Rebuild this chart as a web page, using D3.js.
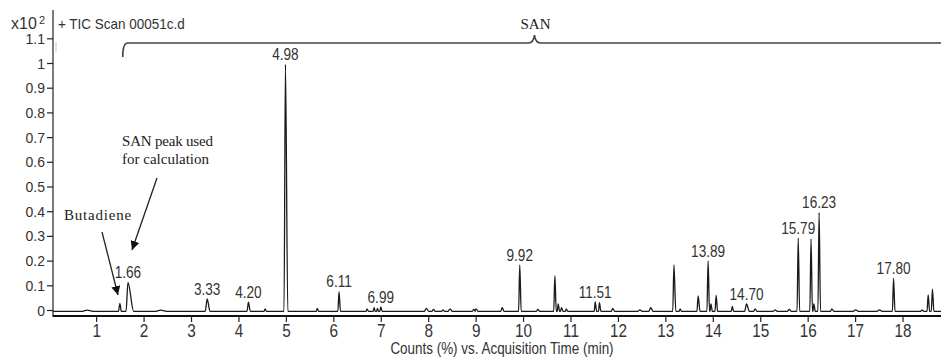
<!DOCTYPE html>
<html>
<head>
<meta charset="utf-8">
<script src="https://cdn.jsdelivr.net/npm/d3@7"></script>
<style>
  body { margin: 0; background: #fff; }
  svg { display: block; }
</style>
</head>
<body>
<div id="main"></div>
<script>
// retention time (min) and height (x10^2 counts) of every peak on the trace
var peakTimes = [0.80, 1.49, 1.66, 2.35, 3.33, 4.20, 4.55, 4.98, 5.65, 6.11, 6.70, 6.85, 6.92, 6.99,
  7.95, 8.10, 8.30, 8.45, 8.95, 9.00, 9.55, 9.92, 10.30, 10.66, 10.73, 10.80, 10.90, 11.51, 11.60,
  11.88, 12.45, 12.68, 13.17, 13.30, 13.68, 13.89, 13.95, 14.06, 14.40, 14.70, 14.88, 15.30, 15.60,
  15.79, 16.06, 16.12, 16.23, 16.50, 17.00, 17.50, 17.80, 18.40, 18.53, 18.62];
var peakHeights = [0.005, 0.032, 0.117, 0.005, 0.050, 0.037, 0.010, 1.000, 0.012, 0.080, 0.010, 0.015, 0.012, 0.018,
  0.012, 0.008, 0.006, 0.010, 0.008, 0.010, 0.015, 0.187, 0.008, 0.143, 0.030, 0.015, 0.010, 0.038, 0.035,
  0.012, 0.006, 0.015, 0.188, 0.010, 0.062, 0.204, 0.030, 0.064, 0.020, 0.030, 0.010, 0.006, 0.008,
  0.296, 0.292, 0.030, 0.400, 0.010, 0.006, 0.006, 0.133, 0.006, 0.066, 0.090];
// peak half widths in minutes (leading, tailing)
var peakLead = [0.10, 0.03, 0.04, 0.10, 0.04, 0.03, 0.02, 0.03, 0.02, 0.025, 0.02, 0.02, 0.02, 0.02,
  0.04, 0.03, 0.03, 0.04, 0.03, 0.03, 0.03, 0.025, 0.03, 0.025, 0.02, 0.02, 0.02, 0.02, 0.02,
  0.03, 0.04, 0.04, 0.025, 0.02, 0.025, 0.025, 0.02, 0.025, 0.02, 0.04, 0.03, 0.04, 0.04,
  0.025, 0.025, 0.02, 0.025, 0.03, 0.05, 0.05, 0.025, 0.03, 0.025, 0.025];
var peakTail = [0.12, 0.03, 0.12, 0.12, 0.06, 0.04, 0.03, 0.05, 0.03, 0.03, 0.03, 0.02, 0.02, 0.03,
  0.05, 0.04, 0.04, 0.05, 0.04, 0.04, 0.04, 0.03, 0.04, 0.03, 0.03, 0.03, 0.03, 0.03, 0.03,
  0.04, 0.05, 0.05, 0.04, 0.03, 0.04, 0.03, 0.03, 0.03, 0.03, 0.06, 0.04, 0.05, 0.05,
  0.03, 0.03, 0.03, 0.03, 0.04, 0.06, 0.06, 0.03, 0.04, 0.03, 0.03];

var labelTimes = ['1.66', '3.33', '4.20', '4.98', '6.11', '6.99', '9.92', '11.51', '13.89', '14.70', '15.79', '16.23', '17.80'];

var xTicks = [1, 2, 3, 4, 5, 6, 7, 8, 9, 10, 11, 12, 13, 14, 15, 16, 17, 18];
var yTicks = [0, 0.1, 0.2, 0.3, 0.4, 0.5, 0.6, 0.7, 0.8, 0.9, 1, 1.1];

var xDomain = [0.08, 18.8];
var yDomain = [0, 1.1];

function draw_chromatogram() {

  var width = 941;
  var height = 358;
  var sans = 'Arial, "Liberation Sans", sans-serif';
  var serif = '"Times New Roman", "Liberation Serif", serif';
  var ink = '#333';

  var svg = d3.select('#main').append('svg').attr('width', width).attr('height', height);

  var x = d3.scaleLinear().domain(xDomain).range([53, 941]);
  var y = d3.scaleLinear().domain(yDomain).range([310.5, 63.5 - 247 * 0.1]);

  // narrow text: the original font is condensed
  function narrowText(g, px, py, str, size, sx, anchor) {
    return g.append('text')
      .attr('transform', 'translate(' + px + ',' + py + ') scale(' + sx + ',1)')
      .attr('text-anchor', anchor)
      .attr('font-family', sans)
      .attr('font-size', size)
      .attr('fill', ink)
      .text(str);
  }

  // y axis
  svg.append('line')
    .attr('x1', 53).attr('x2', 53)
    .attr('y1', 10).attr('y2', 317)
    .attr('stroke', '#222').attr('stroke-width', 1.2);

  svg.selectAll('.ytick')
    .data(yTicks)
    .enter()
    .append('line')
    .attr('class', 'ytick')
    .attr('x1', 47).attr('x2', 53)
    .attr('y1', function (d) { return y(d) })
    .attr('y2', function (d) { return y(d) })
    .attr('stroke', '#222').attr('stroke-width', 1.2);

  svg.selectAll('.ylabel')
    .data(yTicks)
    .enter()
    .append('text')
    .attr('class', 'ylabel')
    .attr('x', 45)
    .attr('y', function (d) { return y(d) + 5 })
    .attr('text-anchor', 'end')
    .attr('font-family', sans)
    .attr('font-size', 14)
    .attr('fill', ink)
    .text(function (d) { return d3.format('~g')(d) });

  // x axis
  svg.append('line')
    .attr('x1', 53).attr('x2', 941)
    .attr('y1', 316).attr('y2', 316)
    .attr('stroke', '#111').attr('stroke-width', 2.2);

  svg.selectAll('.xtick')
    .data(xTicks)
    .enter()
    .append('line')
    .attr('class', 'xtick')
    .attr('x1', function (d) { return x(d) })
    .attr('x2', function (d) { return x(d) })
    .attr('y1', 316).attr('y2', 322)
    .attr('stroke', '#222').attr('stroke-width', 1.2);

  xTicks.forEach(function (d) {
    narrowText(svg, x(d), 337, String(d), 18, 0.85, 'middle');
  });

  narrowText(svg, 502, 354, 'Counts (%) vs. Acquisition Time (min)', 16, 0.84, 'middle');

  // header
  svg.append('text')
    .attr('x', 11).attr('y', 29)
    .attr('font-family', sans).attr('font-size', 16).attr('fill', ink)
    .text('x10');
  svg.append('text')
    .attr('x', 39).attr('y', 24)
    .attr('font-family', sans).attr('font-size', 11).attr('fill', ink)
    .text('2');
  narrowText(svg, 58, 29, '+ TIC Scan 00051c.d', 15, 0.9, 'start');

  svg.append('line')
    .attr('x1', 56).attr('x2', 56)
    .attr('y1', 42).attr('y2', 52)
    .attr('stroke', '#e8b890').attr('stroke-width', 1);

  // trace
  var pts = [[xDomain[0], 0]];
  peakTimes.forEach(function (t, i) {
    pts.push([t - peakLead[i], 0]);
    pts.push([t, peakHeights[i]]);
    pts.push([t + peakTail[i], 0]);
  });
  pts.push([xDomain[1], 0]);

  var line = d3.line()
    .x(function (d) { return x(d[0]) })
    .y(function (d) { return y(d[1]) + 0.8 })
    .curve(d3.curveMonotoneX);

  svg.append('path')
    .attr('d', line(pts))
    .attr('fill', 'none')
    .attr('stroke', '#1a1a1a')
    .attr('stroke-width', 1.3);

  // peak labels
  labelTimes.forEach(function (s) {
    var t = +s;
    var h = peakHeights[peakTimes.indexOf(t)];
    narrowText(svg, x(t), y(h) - 3.5, s, 17, 0.8, 'middle');
  });

  // SAN bracket
  var bx0 = x(1.55), bxm = x(10.23), by = 43;
  svg.append('path')
    .attr('d', 'M' + bx0 + ',57 Q' + bx0 + ',' + by + ' ' + (bx0 + 5) + ',' + by +
      ' L' + (bxm - 6) + ',' + by + ' Q' + (bxm - 1) + ',' + by + ' ' + bxm + ',' + (by - 8) +
      ' Q' + (bxm + 1) + ',' + by + ' ' + (bxm + 6) + ',' + by + ' L941,' + by)
    .attr('fill', 'none')
    .attr('stroke', '#444')
    .attr('stroke-width', 1.6);

  svg.append('text')
    .attr('x', bxm + 1).attr('y', 29)
    .attr('text-anchor', 'middle')
    .attr('font-family', serif).attr('font-size', 15).attr('fill', '#222')
    .text('SAN');

  // annotations
  svg.append('defs').append('marker')
    .attr('id', 'arrow')
    .attr('viewBox', '0 0 10 10')
    .attr('refX', 10).attr('refY', 5)
    .attr('markerWidth', 9).attr('markerHeight', 9)
    .attr('markerUnits', 'userSpaceOnUse')
    .attr('orient', 'auto')
    .append('path')
    .attr('d', 'M0,0 L10,5 L0,10 Z')
    .attr('fill', '#111');

  svg.append('line')
    .attr('x1', 102).attr('y1', 232)
    .attr('x2', 118).attr('y2', 295)
    .attr('stroke', '#222').attr('stroke-width', 1.3)
    .attr('marker-end', 'url(#arrow)');

  svg.append('line')
    .attr('x1', 157).attr('y1', 178)
    .attr('x2', 132).attr('y2', 250)
    .attr('stroke', '#222').attr('stroke-width', 1.3)
    .attr('marker-end', 'url(#arrow)');

  svg.append('text')
    .attr('x', 64).attr('y', 220)
    .attr('font-family', serif).attr('font-size', 15).attr('fill', '#222')
    .attr('letter-spacing', 0.8)
    .text('Butadiene');

  svg.append('text')
    .attr('x', 122).attr('y', 146)
    .attr('font-family', serif).attr('font-size', 15).attr('fill', '#222')
    .attr('letter-spacing', -0.2)
    .text('SAN peak used');

  svg.append('text')
    .attr('x', 122).attr('y', 164)
    .attr('font-family', serif).attr('font-size', 15).attr('fill', '#222')
    .text('for calculation');
}

draw_chromatogram();
</script>
</body>
</html>
